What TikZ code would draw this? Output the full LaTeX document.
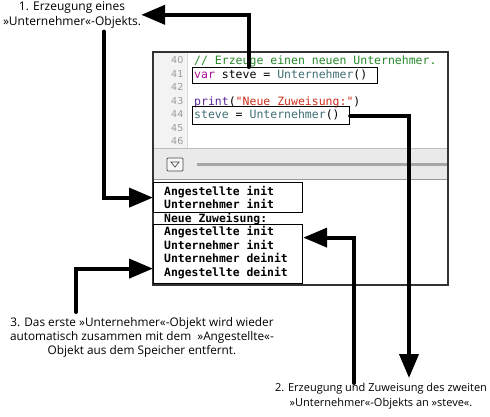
\documentclass[tikz,border=0pt]{standalone}
\usepackage{fontspec}
\setmainfont{Open Sans}
\setmonofont{DejaVu Sans Mono}
\newfontfamily\numfont{DejaVu Sans}
\usetikzlibrary{arrows.meta}
\definecolor{kwc}{HTML}{AA0D91}
\definecolor{cmt}{HTML}{26892A}
\definecolor{typ}{HTML}{3F6E74}
\definecolor{strc}{HTML}{D12F1B}
\definecolor{fnc}{HTML}{5C2699}
\definecolor{lnum}{HTML}{9A9A9A}
\definecolor{gut}{HTML}{F3F3F3}
\definecolor{tbar}{HTML}{EAEAEA}
\definecolor{frm}{HTML}{333333}
\tikzset{
  arr/.style={line width=4pt, line cap=round, -{Triangle[length=24pt,width=19pt]}},
  note/.style={align=center, inner sep=0pt},
  codeln/.style={anchor=base west, inner sep=0pt, font=\fontsize{11.5}{13.6}\ttfamily},
  cons/.style={anchor=base west, inner sep=0pt, font=\fontsize{11.4}{13.6}\ttfamily\bfseries},
  lnr/.style={anchor=base east, inner sep=0pt, text=lnum, font=\fontsize{9.5}{10}\numfont},
  obox/.style={draw, line width=1.2pt, anchor=north west, inner sep=0pt},
}
\begin{document}
\begin{tikzpicture}[x=1pt,y=-1pt]
\useasboundingbox (0,0) rectangle (490,416);
% screenshot frame
\fill[white] (153,52) rectangle (448,285);
\fill[gut] (153,52) rectangle (187,148);
\draw[black!15] (187,52) -- (187,148);
\fill[tbar] (153,148) rectangle (448,179);
\draw[black!25] (153,148) -- (448,148);
\draw[black!40, line width=1pt] (153,179) -- (448,179);
\draw[black!35, line width=3pt] (197,164) -- (447,164);
\draw[black!70, fill=black!3, line width=0.8pt, rounded corners=1pt] (167,158) rectangle (183,171);
\draw[black!70, line width=0.7pt] (171,162) -- (179,162) -- (175,167) -- cycle;
\draw[frm, line width=1.5pt] (153,52) rectangle (448,285);
% line numbers
\node[lnr] (n40) at (183.5,63.5) {40};
\node[lnr] (n41) at (183.5,77) {41};
\node[lnr] (n42) at (183.5,90.5) {42};
\node[lnr] (n43) at (183.5,104) {43};
\node[lnr] (n44) at (183.5,117.5) {44};
\node[lnr] (n45) at (183.5,131) {45};
\node[lnr] (n46) at (183.5,144.5) {46};
% code
\node[codeln] (l40) at (194,64) {\textcolor{cmt}{// Erzeuge einen neuen Unternehmer.}};
\node[codeln] (l41) at (194,78) {\textcolor{kwc}{var} steve = \textcolor{typ}{Unternehmer}()};
\node[codeln] (l43) at (194,105) {\textcolor{fnc}{print}(\textcolor{strc}{"Neue Zuweisung:"})};
\node[codeln] (l44) at (194,118.5) {\textcolor{typ}{steve} = \textcolor{typ}{Unternehmer}()};
\node[obox, minimum width=185pt, minimum height=16pt] (b41) at (192,67) {};
\node[obox, minimum width=157pt, minimum height=18pt] (b44) at (192,106) {};
% console
\node[cons] (o1) at (164,195) {Angestellte init};
\node[cons] (o2) at (164,208.5) {Unternehmer init};
\node[cons] (o3) at (164,222) {Neue Zuweisung:};
\node[cons] (o4) at (164,235.5) {Angestellte init};
\node[cons] (o5) at (164,249) {Unternehmer init};
\node[cons] (o6) at (164,262.5) {Unternehmer deinit};
\node[cons] (o7) at (164,276) {Angestellte deinit};
\node[obox, minimum width=149pt, minimum height=30pt] (c1) at (153,182) {};
\node[obox, minimum width=149pt, minimum height=59pt] (c2) at (153,224) {};
% notes
\node[note, anchor=north, font=\fontsize{12}{15.5}\selectfont] (t1) at (72,1) {1. Erzeugung eines\\»Unternehmer«-Objekts.};
\node[note, anchor=north, font=\fontsize{11.8}{14}\selectfont] (t3) at (142,317) {3. Das erste »Unternehmer«-Objekt wird wieder\\automatisch zusammen mit dem \ »Angestellte«-\\Objekt aus dem Speicher entfernt.};
\node[note, anchor=north, font=\fontsize{11}{15}\selectfont] (t2) at (381,383) {2. Erzeugung und Zuweisung des zweiten\\»Unternehmer«-Objekts an »steve«.};
% arrows
\draw[arr] ([xshift=-36.5pt]b41.north) |- (t1.east);
\draw[arr] ([xshift=32pt,yshift=-3pt]t1.south) |- (c1.west);
\draw[arr] ([xshift=-66pt,yshift=5pt]t3.north) |- ([yshift=-14.5pt]c2.west);
\draw[arr] (b44.east) -| ([xshift=28pt,yshift=5pt]t2.north);
\draw[arr] ([xshift=-27pt]t2.north) |- ([yshift=16.5pt]c2.east);
\end{tikzpicture}
\end{document}
